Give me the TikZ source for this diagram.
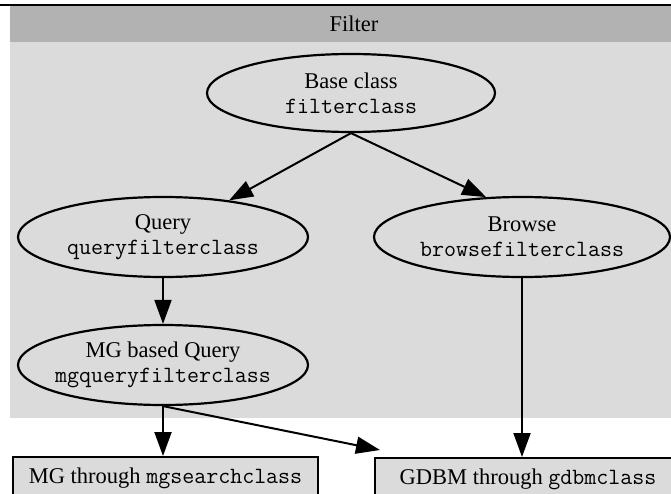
\documentclass[tikz,border=0pt]{standalone}
\usepackage{fontspec}
\setmainfont{Liberation Serif}
\usetikzlibrary{arrows.meta,shapes.geometric,calc}
\definecolor{stipple}{gray}{0.86}
\definecolor{bandgray}{gray}{0.70}
\newcommand\clsname[1]{{\fontsize{23.3}{25}\selectfont\ttfamily #1}}
\begin{document}
\begin{tikzpicture}[x=1pt,y=-1pt,
  oval/.style={draw, ellipse, line width=2.2pt, inner sep=0pt},
  lbl/.style={align=center, font=\fontsize{22.5}{25}\selectfont, inner sep=0pt},
  boxn/.style={draw, line width=2pt, fill=stipple, inner sep=0pt, font=\fontsize{22.5}{25}\selectfont},
  arr/.style={line width=2pt, -{Triangle[length=24pt,width=17pt]}}]
\useasboundingbox (0,0) rectangle (671,494);
\clip (0,0) rectangle (671,494);
% background regions
\fill[stipple] (10,6) rectangle (690,418);
\fill[bandgray] (10,6) rectangle (690,42);
\draw[line width=2pt] (-5,5) -- (690,5);
\node[lbl] (title) at (354,24) {Filter};
% ellipses
\node[oval, minimum width=288pt, minimum height=78pt] (base) at (351,93) {};
\node[lbl] (baset) at (base) {Base class\\\clsname{filterclass}};
\node[oval, minimum width=290pt, minimum height=80pt] (query) at (163,237) {};
\node[lbl] (queryt) at (query) {Query\\\clsname{queryfilterclass}};
\node[oval, minimum width=296pt, minimum height=80pt] (browse) at (522,237) {};
\node[lbl] (browset) at (browse) {Browse\\\clsname{browsefilterclass}};
\node[oval, minimum width=290pt, minimum height=80pt] (mgq) at (163,365) {};
\node[lbl] (mgqt) at (mgq) {MG based Query\\\clsname{mgqueryfilterclass}};
% boxes
\node[boxn, minimum width=305pt, minimum height=42pt, anchor=north west] (mgbox) at (12,456) {MG through \clsname{mgsearchclass}};
\node[boxn, minimum width=306pt, minimum height=42pt, anchor=north west] (gdbm) at (374,457) {GDBM through \clsname{gdbmclass}};
% arrows
\draw[arr] (base.south) -- (query.29);
\draw[arr] (base.south) -- (browse.132);
\draw[arr] (query.south) -- (mgq.north);
\draw[arr] (mgq.south) -- (mgq.south |- mgbox.north);
\draw[arr] (mgq.south) -- ([shift={(6pt,7pt)}]gdbm.north west);
\draw[arr] (browse.south) -- (browse.south |- gdbm.north);
\end{tikzpicture}
\end{document}
